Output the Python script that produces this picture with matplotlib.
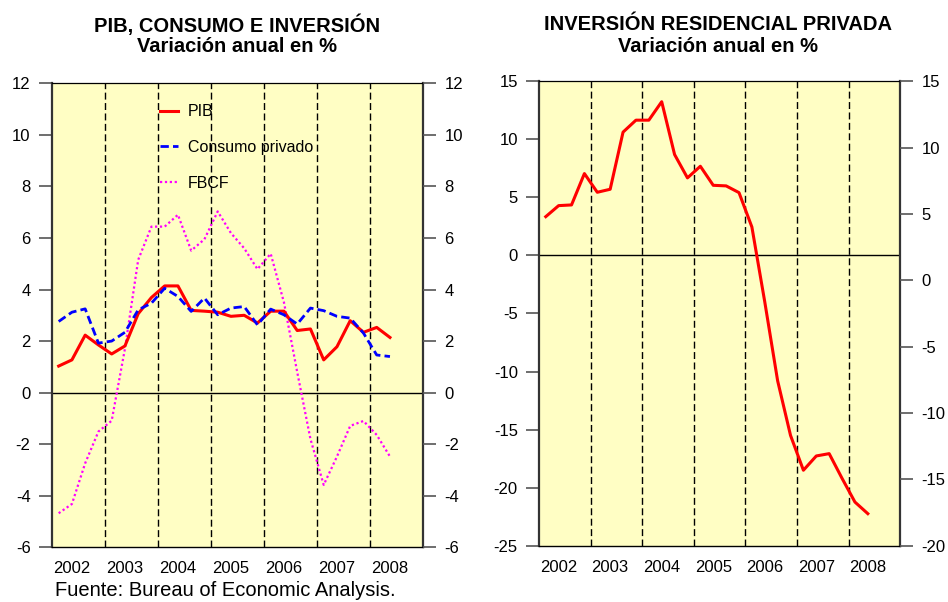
import numpy as np
import matplotlib
matplotlib.use('Agg')
import matplotlib.pyplot as plt

plt.rcParams['font.family'] = ['Liberation Sans', 'DejaVu Sans']
plt.rcParams['axes.unicode_minus'] = False

# Trimestres 2002T1 - 2008T2
anios = ['2002', '2003', '2004', '2005', '2006', '2007', '2008']

pib = [1.03, 1.27, 2.23, 1.85, 1.50, 1.81, 3.06, 3.69, 4.14, 4.14, 3.19, 3.16,
       3.12, 2.96, 3.00, 2.70, 3.16, 3.16, 2.41, 2.47, 1.27, 1.78, 2.79, 2.34,
       2.53, 2.14]
consumo = [2.76, 3.12, 3.25, 1.92, 2.00, 2.34, 3.21, 3.47, 4.05, 3.73, 3.15, 3.67,
           3.02, 3.28, 3.34, 2.63, 3.24, 3.02, 2.66, 3.28, 3.18, 2.96, 2.89, 2.31,
           1.46, 1.40]
fbcf = [-4.68, -4.32, -2.74, -1.51, -1.09, 1.70, 5.15, 6.44, 6.44, 6.90, 5.51, 5.95,
        7.03, 6.19, 5.60, 4.79, 5.39, 3.50, 0.80, -1.80, -3.58, -2.48, -1.29, -1.10,
        -1.64, -2.48]
residencial = [3.34, 4.29, 4.35, 7.05, 5.44, 5.70, 10.62, 11.65, 11.65, 13.24, 8.69, 6.68,
               7.68, 6.04, 5.99, 5.41, 2.45, -4.0, -10.8, -15.5, -18.5, -17.27, -17.07,
               -19.2, -21.24, -22.24]

trim = np.arange(len(pib))
fondo = '#FFFEC4'
gris = '#555555'
fs = 12

fig = plt.figure(figsize=(9.48, 6.02), dpi=100)


def preparar(ax, ylim, yticks):
    ax.set_facecolor(fondo)
    ax.set_xlim(-0.5, 27.5)
    ax.set_ylim(*ylim)
    ax.set_yticks(yticks)
    ax.set_xticks(np.arange(1, 28, 4))
    ax.set_xticklabels(anios)
    ax.tick_params(axis='x', length=0, pad=10, labelsize=fs)
    ax.tick_params(axis='y', length=9.5, width=1.2, color=gris, pad=6, labelsize=fs)
    ax.spines['left'].set_linewidth(1.6)
    ax.spines['right'].set_linewidth(1.6)
    ax.spines['left'].set_color('#333333')
    ax.spines['right'].set_color('#333333')
    ax.spines['top'].set_linewidth(0.9)
    ax.spines['bottom'].set_linewidth(1.0)
    for xv in np.arange(3.5, 27, 4):
        ax.axvline(xv, color='black', lw=1.0, ls=(0, (5, 2.5)), zorder=1)
    ax.axhline(0, color='black', lw=1.0, zorder=1)


def eje_derecho(ax, ylim, yticks):
    axb = ax.twinx()
    axb.set_ylim(*ylim)
    axb.set_yticks(yticks)
    axb.tick_params(axis='y', length=9.5, width=1.2, color=gris, pad=6, labelsize=fs)
    for s in axb.spines.values():
        s.set_visible(False)
    return axb


# Grafico izquierdo
ax1 = fig.add_axes([0.0549, 0.0909, 0.3914, 0.7707])
preparar(ax1, (-6, 12), np.arange(-6, 13, 2))
ax1.plot(trim, pib, color='red', lw=2.2, label='PIB', zorder=3)
ax1.plot(trim, consumo, color='blue', lw=2.0, ls=(0, (3, 1.5)), label='Consumo privado', zorder=3)
ax1.plot(trim, fbcf, color='magenta', lw=1.6, ls=(0, (1, 1.2)), label='FBCF', zorder=2)
eje_derecho(ax1, (-6, 12), np.arange(-6, 13, 2))
ax1.legend(loc='upper left', bbox_to_anchor=(0.291, 0.955), frameon=False,
           fontsize=11.5, labelspacing=1.3, handlelength=1.15, handletextpad=0.6,
           borderpad=0, borderaxespad=0)

# Grafico derecho
ax2 = fig.add_axes([0.5689, 0.0935, 0.3805, 0.7715])
preparar(ax2, (-25, 15), np.arange(-25, 16, 5))
ax2.plot(trim, residencial, color='red', lw=2.2, zorder=3)
eje_derecho(ax2, (-20, 15), np.arange(-20, 16, 5))

# Titulos
for xc, titulo in [(237, 'PIB, CONSUMO E INVERSIÓN'), (718, 'INVERSIÓN RESIDENCIAL PRIVADA')]:
    fig.text(xc / 948, 1 - 25 / 602, titulo, fontsize=14.5, fontweight='bold',
             ha='center', va='center')
    fig.text(xc / 948, 1 - 46 / 602, 'Variación anual en %', fontsize=14.5,
             fontweight='bold', ha='center', va='center')

fig.text(55 / 948, 1 - 596 / 602, 'Fuente: Bureau of Economic Analysis.', fontsize=14.5,
         ha='left', va='baseline')

fig.savefig('out.png', dpi=100)
